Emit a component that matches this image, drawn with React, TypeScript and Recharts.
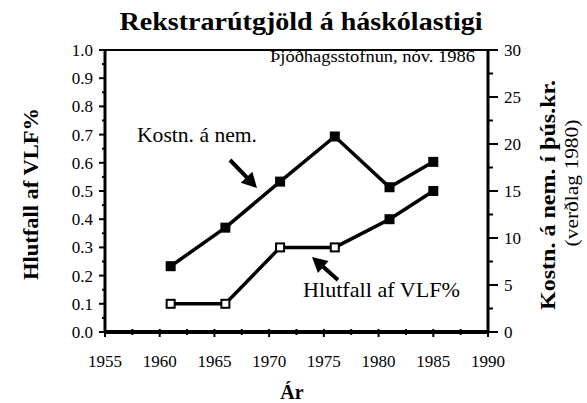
import React from 'react';
import { LineChart, Line, XAxis, YAxis, ReferenceLine } from 'recharts';

// Ár / Kostnaður á nemanda (þús.kr., verðlag 1980) / Hlutfall af VLF%
const years = [1961, 1966, 1971, 1976, 1981, 1985];
const kostnadur = [7.0, 11.1, 16.0, 20.8, 15.4, 18.1];
const hlutfall = [0.1, 0.1, 0.3, 0.3, 0.4, 0.5];

const xTicks = [1955, 1957.5, 1960, 1962.5, 1965, 1967.5, 1970, 1972.5, 1975, 1977.5, 1980, 1982.5, 1985, 1987.5, 1990];
const leftTicks = [0, 0.05, 0.1, 0.15, 0.2, 0.25, 0.3, 0.35, 0.4, 0.45, 0.5, 0.55, 0.6, 0.65, 0.7, 0.75, 0.8, 0.85, 0.9, 0.95, 1];
const rightTicks = [0, 2.5, 5, 7.5, 10, 12.5, 15, 17.5, 20, 22.5, 25, 27.5, 30];

const data = years.map((ar, i) => ({ ar, kostnadur: kostnadur[i], hlutfall: hlutfall[i] }));

const FONT = "'Liberation Serif', 'DejaVu Serif', serif";
const txt = { fontFamily: FONT };

const XTick = ({ x, y, payload }: any) => {
    const major = payload.value % 5 === 0;
    return (
        <g>
            <line x1={x} x2={x} y1={y - 3} y2={y + (major ? 5 : 3)} stroke="#000" strokeWidth={2} />
            {major && (
                <text x={x} y={y + 35} textAnchor="middle" fontSize={17} style={txt} fill="#000">
                    {payload.value}
                </text>
            )}
        </g>
    );
};

const LeftTick = ({ x, y, payload }: any) => {
    const major = Math.round(payload.value * 100) % 10 === 0;
    return (
        <g>
            <line x1={x - (major ? 6 : 3)} x2={x} y1={y} y2={y} stroke="#000" strokeWidth={2} />
            {major && (
                <text x={x - 12} y={y + 6} textAnchor="end" fontSize={17} style={txt} fill="#000">
                    {payload.value.toFixed(1)}
                </text>
            )}
        </g>
    );
};

const RightTick = ({ x, y, payload }: any) => {
    const major = payload.value % 5 === 0;
    return (
        <g>
            <line x1={x} x2={x + (major ? 10 : 5)} y1={y} y2={y} stroke="#000" strokeWidth={2} />
            {major && (
                <text x={x + 16} y={y + 6} textAnchor="start" fontSize={17} style={txt} fill="#000">
                    {payload.value}
                </text>
            )}
        </g>
    );
};

const FilledSquare = ({ cx, cy }: any) => (
    <rect x={cx - 5} y={cy - 5} width={10} height={10} fill="#000" />
);

const OpenSquare = ({ cx, cy, index }: any) => (
    <rect
        x={cx - 4}
        y={cy - 4}
        width={8}
        height={8}
        fill={index >= 4 ? '#000' : '#fff'}
        stroke="#000"
        strokeWidth={2}
    />
);

const Arrow = ({ x1, y1, x2, y2 }: any) => {
    const dx = x2 - x1;
    const dy = y2 - y1;
    const len = Math.sqrt(dx * dx + dy * dy);
    const ux = dx / len;
    const uy = dy / len;
    const hl = 15;
    const hw = 8;
    const bx = x2 - ux * hl;
    const by = y2 - uy * hl;
    const pts = `${x2},${y2} ${bx - uy * hw},${by + ux * hw} ${bx + uy * hw},${by - ux * hw}`;
    return (
        <g>
            <line x1={x1} y1={y1} x2={bx + ux * 2} y2={by + uy * 2} stroke="#000" strokeWidth={4} />
            <polygon points={pts} fill="#000" />
        </g>
    );
};

export default function App() {
    return (
        <div style={{ position: 'absolute', left: 0, top: 0, width: 587, height: 403, background: '#fff', fontFamily: FONT }}>
            <LineChart
                width={587}
                height={403}
                data={data}
                margin={{ top: 50, right: 59, bottom: 41, left: 60 }}
            >
                <XAxis
                    dataKey="ar"
                    type="number"
                    domain={[1955, 1990]}
                    ticks={xTicks}
                    interval={0}
                    height={30}
                    tickSize={0}
                    tickMargin={0}
                    tickLine={false}
                    axisLine={{ stroke: '#000', strokeWidth: 4 }}
                    tick={<XTick />}
                />
                <YAxis
                    yAxisId="left"
                    domain={[0, 1]}
                    ticks={leftTicks}
                    interval={0}
                    width={45}
                    tickSize={0}
                    tickMargin={0}
                    tickLine={false}
                    axisLine={{ stroke: '#000', strokeWidth: 3 }}
                    tick={<LeftTick />}
                />
                <YAxis
                    yAxisId="right"
                    orientation="right"
                    domain={[0, 30]}
                    ticks={rightTicks}
                    interval={0}
                    width={40}
                    tickSize={0}
                    tickMargin={0}
                    tickLine={false}
                    axisLine={{ stroke: '#000', strokeWidth: 3 }}
                    tick={<RightTick />}
                />
                <ReferenceLine yAxisId="left" y={1} stroke="#000" strokeWidth={2} />
                <Line
                    yAxisId="right"
                    dataKey="kostnadur"
                    stroke="#000"
                    strokeWidth={3.5}
                    dot={<FilledSquare />}
                    activeDot={false}
                    isAnimationActive={false}
                />
                <Line
                    yAxisId="left"
                    dataKey="hlutfall"
                    stroke="#000"
                    strokeWidth={3.5}
                    dot={<OpenSquare />}
                    activeDot={false}
                    isAnimationActive={false}
                />
            </LineChart>
            <svg
                width={587}
                height={403}
                style={{ position: 'absolute', left: 0, top: 0, pointerEvents: 'none', fontFamily: FONT }}
            >
                <text x={301} y={30} textAnchor="middle" fontSize={26} fontWeight="bold" style={txt}
                    textLength={363} lengthAdjust="spacingAndGlyphs">
                    Rekstrarútgjöld á háskólastigi
                </text>
                <text x={270} y={62} fontSize={16} style={txt} textLength={205} lengthAdjust="spacingAndGlyphs">
                    Þjóðhagsstofnun, nóv. 1986
                </text>
                <text x={137} y={142} fontSize={21} style={txt} textLength={120} lengthAdjust="spacingAndGlyphs">
                    Kostn. á nem.
                </text>
                <text x={303} y={297} fontSize={21} style={txt} textLength={157} lengthAdjust="spacingAndGlyphs">
                    Hlutfall af VLF%
                </text>
                <Arrow x1={230} y1={160} x2={257} y2={188} />
                <Arrow x1={338} y1={280} x2={312} y2={257} />
                <text x={292} y={399} textAnchor="middle" fontSize={20} fontWeight="bold" style={txt}>
                    Ár
                </text>
                <text
                    transform="translate(38,194) rotate(-90)"
                    textAnchor="middle"
                    fontSize={20}
                    fontWeight="bold"
                    style={txt}
                    textLength={172}
                    lengthAdjust="spacingAndGlyphs"
                >
                    Hlutfall af VLF%
                </text>
                <text
                    transform="translate(555,195) rotate(-90)"
                    textAnchor="middle"
                    fontSize={20}
                    fontWeight="bold"
                    style={txt}
                    textLength={230}
                    lengthAdjust="spacingAndGlyphs"
                >
                    Kostn. á nem. í þús.kr.
                </text>
                <text
                    transform="translate(578,183) rotate(-90)"
                    textAnchor="middle"
                    fontSize={18}
                    style={txt}
                    textLength={127}
                    lengthAdjust="spacingAndGlyphs"
                >
                    (verðlag 1980)
                </text>
            </svg>
        </div>
    );
}
